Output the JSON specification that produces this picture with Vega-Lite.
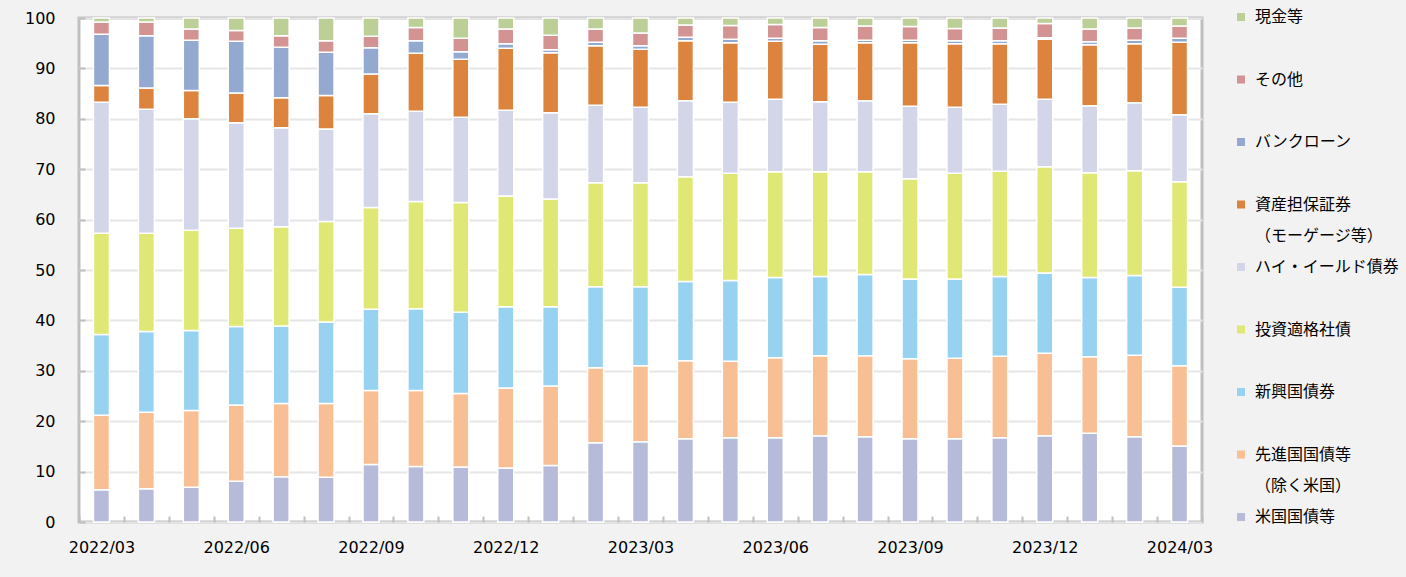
{
  "$schema": "https://vega.github.io/schema/vega-lite/v6.json",
  "width": 1123,
  "height": 504,
  "autosize": "none",
  "padding": {"left": 79, "top": 18, "right": 204, "bottom": 55},
  "background": "#f2f2f2",
  "view": {"fill": "#ffffff", "stroke": "#bfbfbf", "strokeWidth": 3},
  "datasets": {
    "series": [
      {"資産": "米国国債等", "順序": 1},
      {"資産": "先進国国債等（除く米国）", "順序": 2},
      {"資産": "新興国債券", "順序": 3},
      {"資産": "投資適格社債", "順序": 4},
      {"資産": "ハイ・イールド債券", "順序": 5},
      {"資産": "資産担保証券（モーゲージ等）", "順序": 6},
      {"資産": "バンクローン", "順序": 7},
      {"資産": "その他", "順序": 8},
      {"資産": "現金等", "順序": 9}
    ]
  },
  "data": {
    "values": [
      {"月": "2022/03", "米国国債等": 6.4, "先進国国債等（除く米国）": 14.8, "新興国債券": 16.0, "投資適格社債": 20.1, "ハイ・イールド債券": 26.0, "資産担保証券（モーゲージ等）": 3.3, "バンクローン": 10.2, "その他": 2.4, "現金等": 0.8},
      {"月": "2022/04", "米国国債等": 6.6, "先進国国債等（除く米国）": 15.2, "新興国債券": 16.0, "投資適格社債": 19.5, "ハイ・イールド債券": 24.6, "資産担保証券（モーゲージ等）": 4.2, "バンクローン": 10.4, "その他": 2.7, "現金等": 0.8},
      {"月": "2022/05", "米国国債等": 6.9, "先進国国債等（除く米国）": 15.2, "新興国債券": 15.9, "投資適格社債": 19.9, "ハイ・イールド債券": 22.1, "資産担保証券（モーゲージ等）": 5.6, "バンクローン": 10.0, "その他": 2.2, "現金等": 2.2},
      {"月": "2022/06", "米国国債等": 8.1, "先進国国債等（除く米国）": 15.1, "新興国債券": 15.6, "投資適格社債": 19.5, "ハイ・イールド債券": 20.9, "資産担保証券（モーゲージ等）": 5.9, "バンクローン": 10.3, "その他": 2.1, "現金等": 2.5},
      {"月": "2022/07", "米国国債等": 9.0, "先進国国債等（除く米国）": 14.5, "新興国債券": 15.4, "投資適格社債": 19.7, "ハイ・イールド債券": 19.6, "資産担保証券（モーゲージ等）": 6.0, "バンクローン": 10.0, "その他": 2.3, "現金等": 3.5},
      {"月": "2022/08", "米国国債等": 8.9, "先進国国債等（除く米国）": 14.6, "新興国債券": 16.2, "投資適格社債": 19.9, "ハイ・イールド債券": 18.4, "資産担保証券（モーゲージ等）": 6.6, "バンクローン": 8.6, "その他": 2.3, "現金等": 4.5},
      {"月": "2022/09", "米国国債等": 11.4, "先進国国債等（除く米国）": 14.7, "新興国債券": 16.1, "投資適格社債": 20.2, "ハイ・イールド債券": 18.6, "資産担保証券（モーゲージ等）": 7.9, "バンクローン": 5.2, "その他": 2.3, "現金等": 3.6},
      {"月": "2022/10", "米国国債等": 11.0, "先進国国債等（除く米国）": 15.1, "新興国債券": 16.2, "投資適格社債": 21.3, "ハイ・イールド債券": 17.9, "資産担保証券（モーゲージ等）": 11.5, "バンクローン": 2.5, "その他": 2.6, "現金等": 1.9},
      {"月": "2022/11", "米国国債等": 10.9, "先進国国債等（除く米国）": 14.6, "新興国債券": 16.1, "投資適格社債": 21.8, "ハイ・イールド債券": 16.9, "資産担保証券（モーゲージ等）": 11.5, "バンクローン": 1.5, "その他": 2.7, "現金等": 4.0},
      {"月": "2022/12", "米国国債等": 10.7, "先進国国債等（除く米国）": 15.9, "新興国債券": 16.1, "投資適格社債": 22.0, "ハイ・イールド債券": 17.0, "資産担保証券（モーゲージ等）": 12.3, "バンクローン": 0.9, "その他": 2.9, "現金等": 2.2},
      {"月": "2023/01", "米国国債等": 11.2, "先進国国債等（除く米国）": 15.8, "新興国債券": 15.7, "投資適格社債": 21.4, "ハイ・イールド債券": 17.1, "資産担保証券（モーゲージ等）": 11.9, "バンクローン": 0.6, "その他": 2.9, "現金等": 3.4},
      {"月": "2023/02", "米国国債等": 15.7, "先進国国債等（除く米国）": 14.9, "新興国債券": 16.1, "投資適格社債": 20.6, "ハイ・イールド債券": 15.4, "資産担保証券（モーゲージ等）": 11.8, "バンクローン": 0.7, "その他": 2.6, "現金等": 2.2},
      {"月": "2023/03", "米国国債等": 15.9, "先進国国債等（除く米国）": 15.1, "新興国債券": 15.7, "投資適格社債": 20.6, "ハイ・イールド債券": 15.0, "資産担保証券（モーゲージ等）": 11.5, "バンクローン": 0.7, "その他": 2.5, "現金等": 3.0},
      {"月": "2023/04", "米国国債等": 16.5, "先進国国債等（除く米国）": 15.5, "新興国債券": 15.7, "投資適格社債": 20.8, "ハイ・イールド債券": 15.1, "資産担保証券（モーゲージ等）": 11.9, "バンクローン": 0.7, "その他": 2.4, "現金等": 1.4},
      {"月": "2023/05", "米国国債等": 16.7, "先進国国債等（除く米国）": 15.2, "新興国債券": 16.0, "投資適格社債": 21.3, "ハイ・イールド債券": 14.1, "資産担保証券（モーゲージ等）": 11.8, "バンクローン": 0.7, "その他": 2.7, "現金等": 1.5},
      {"月": "2023/06", "米国国債等": 16.7, "先進国国債等（除く米国）": 15.9, "新興国債券": 15.9, "投資適格社債": 21.0, "ハイ・イールド債券": 14.4, "資産担保証券（モーゲージ等）": 11.5, "バンクローン": 0.6, "その他": 2.7, "現金等": 1.3},
      {"月": "2023/07", "米国国債等": 17.1, "先進国国債等（除く米国）": 15.9, "新興国債券": 15.7, "投資適格社債": 20.8, "ハイ・イールド債券": 13.9, "資産担保証券（モーゲージ等）": 11.4, "バンクローン": 0.7, "その他": 2.6, "現金等": 1.9},
      {"月": "2023/08", "米国国債等": 16.9, "先進国国債等（除く米国）": 16.1, "新興国債券": 16.1, "投資適格社債": 20.4, "ハイ・イールド債券": 14.1, "資産担保証券（モーゲージ等）": 11.5, "バンクローン": 0.5, "その他": 2.8, "現金等": 1.6},
      {"月": "2023/09", "米国国債等": 16.5, "先進国国債等（除く米国）": 15.9, "新興国債券": 15.8, "投資適格社債": 19.9, "ハイ・イールド債券": 14.4, "資産担保証券（モーゲージ等）": 12.6, "バンクローン": 0.5, "その他": 2.7, "現金等": 1.7},
      {"月": "2023/10", "米国国債等": 16.5, "先進国国債等（除く米国）": 16.0, "新興国債券": 15.7, "投資適格社債": 21.0, "ハイ・イールド債券": 13.1, "資産担保証券（モーゲージ等）": 12.6, "バンクローン": 0.6, "その他": 2.4, "現金等": 2.1},
      {"月": "2023/11", "米国国債等": 16.7, "先進国国債等（除く米国）": 16.2, "新興国債券": 15.8, "投資適格社債": 20.9, "ハイ・イールド債券": 13.3, "資産担保証券（モーゲージ等）": 12.0, "バンクローン": 0.6, "その他": 2.5, "現金等": 2.0},
      {"月": "2023/12", "米国国債等": 17.1, "先進国国債等（除く米国）": 16.4, "新興国債券": 15.9, "投資適格社債": 21.1, "ハイ・イールド債券": 13.4, "資産担保証券（モーゲージ等）": 11.9, "バンクローン": 0.3, "その他": 2.8, "現金等": 1.1},
      {"月": "2024/01", "米国国債等": 17.6, "先進国国債等（除く米国）": 15.2, "新興国債券": 15.7, "投資適格社債": 20.8, "ハイ・イールド債券": 13.3, "資産担保証券（モーゲージ等）": 12.1, "バンクローン": 0.6, "その他": 2.5, "現金等": 2.2},
      {"月": "2024/02", "米国国債等": 16.9, "先進国国債等（除く米国）": 16.2, "新興国債券": 15.8, "投資適格社債": 20.8, "ハイ・イールド債券": 13.5, "資産担保証券（モーゲージ等）": 11.7, "バンクローン": 0.7, "その他": 2.4, "現金等": 2.0},
      {"月": "2024/03", "米国国債等": 15.1, "先進国国債等（除く米国）": 15.9, "新興国債券": 15.6, "投資適格社債": 20.9, "ハイ・イールド債券": 13.3, "資産担保証券（モーゲージ等）": 14.4, "バンクローン": 0.8, "その他": 2.4, "現金等": 1.6}
    ]
  },
  "transform": [
    {"fold": ["米国国債等", "先進国国債等（除く米国）", "新興国債券", "投資適格社債", "ハイ・イールド債券", "資産担保証券（モーゲージ等）", "バンクローン", "その他", "現金等"], "as": ["資産", "比率"]},
    {"lookup": "資産", "from": {"data": {"name": "series"}, "key": "資産", "fields": ["順序"]}}
  ],
  "mark": {"type": "bar", "size": 16, "stroke": "#ffffff", "strokeWidth": 1.5},
  "encoding": {
    "x": {
      "field": "月",
      "type": "ordinal",
      "scale": {"paddingInner": 0, "paddingOuter": 0},
      "axis": {
        "title": null,
        "labelAngle": 0,
        "domain": false,
        "grid": false,
        "tickBand": "extent",
        "tickSize": -6,
        "tickWidth": 2,
        "tickColor": "#bfbfbf",
        "labelPadding": 23,
        "labelFont": "DejaVu Sans",
        "labelFontSize": 16,
        "labelColor": "#000000",
        "labelExpr": "indexof(['03','06','09','12'], substring(datum.value, 5, 7)) >= 0 ? datum.value : ''"
      }
    },
    "y": {
      "field": "比率",
      "type": "quantitative",
      "stack": "zero",
      "scale": {"domain": [0, 100], "nice": false},
      "axis": {
        "title": null,
        "values": [0, 10, 20, 30, 40, 50, 60, 70, 80, 90, 100],
        "domain": false,
        "grid": true,
        "gridColor": "#e6e6e6",
        "gridWidth": 2,
        "tickSize": -6,
        "tickWidth": 2,
        "tickColor": "#bfbfbf",
        "labelPadding": 30,
        "labelFont": "DejaVu Sans",
        "labelFontSize": 16,
        "labelColor": "#000000"
      }
    },
    "color": {
      "field": "資産",
      "type": "nominal",
      "scale": {
        "domain": ["現金等", "その他", "バンクローン", "資産担保証券（モーゲージ等）", "ハイ・イールド債券", "投資適格社債", "新興国債券", "先進国国債等（除く米国）", "米国国債等"],
        "range": ["#bccf97", "#d49393", "#93a9d0", "#dc843d", "#d3d5e8", "#dfe875", "#97d3f0", "#f7bf93", "#b7bbda"]
      },
      "legend": {
        "title": null,
        "orient": "none",
        "legendX": 1154,
        "legendY": -9,
        "padding": 0,
        "symbolType": "square",
        "symbolSize": 64,
        "symbolStrokeWidth": 0,
        "labelOffset": 6,
        "labelFont": "Noto Sans CJK JP",
        "labelFontSize": 16,
        "labelColor": "#000000",
        "labelLimit": 400,
        "rowPadding": 15.5,
        "labelExpr": "datum.label == '資産担保証券（モーゲージ等）' ? ['資産担保証券', '（モーゲージ等）'] : datum.label == '先進国国債等（除く米国）' ? ['先進国国債等', '（除く米国）'] : [datum.label, '']"
      }
    },
    "order": {"field": "順序", "type": "quantitative", "sort": "ascending"}
  },
  "config": {"style": {"guide-label": {"lineHeight": 31}}}
}
